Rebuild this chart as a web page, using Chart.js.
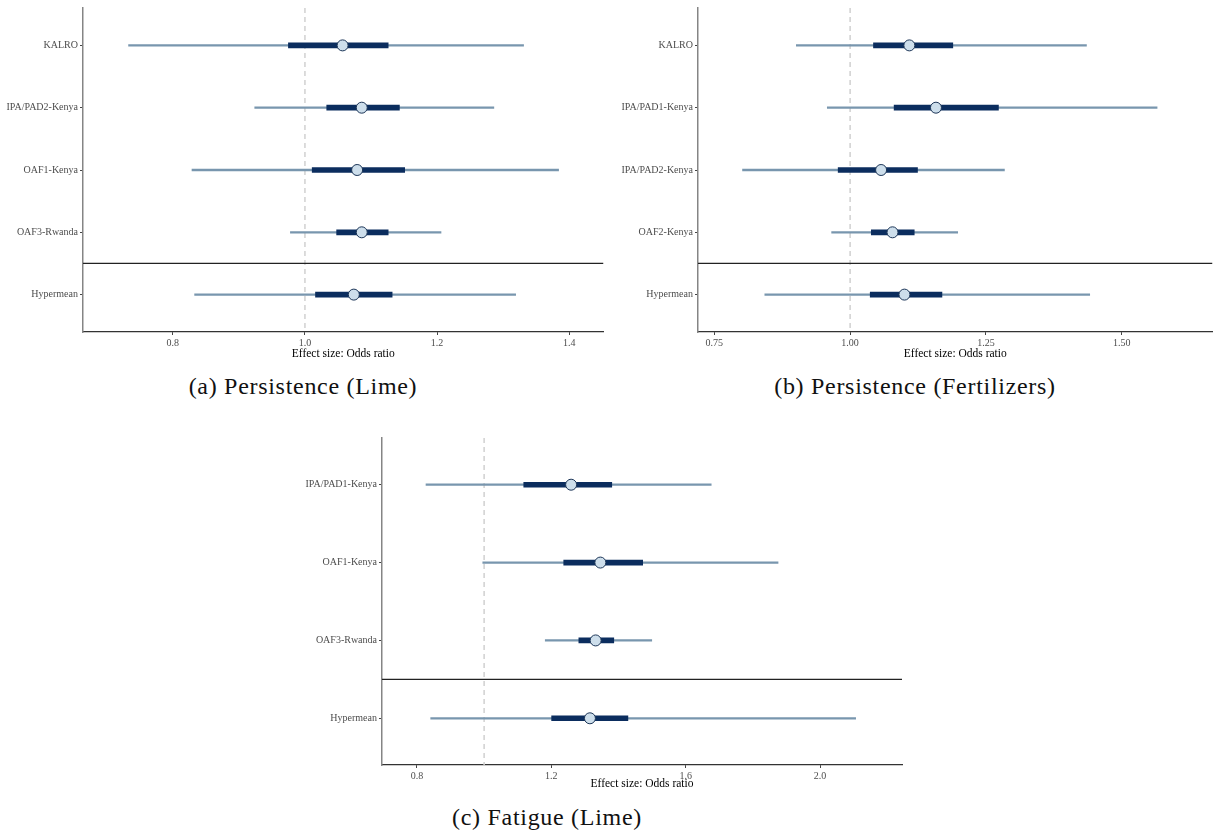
<!DOCTYPE html>
<html>
<head>
<meta charset="utf-8">
<script src="https://cdn.jsdelivr.net/npm/chart.js@4.4.1/dist/chart.umd.min.js"></script>
<style>
  body { margin: 0; background: #fff; width: 1219px; height: 837px; position: relative; overflow: hidden; }
  .panel { position: absolute; }
  .caption { position: absolute; font-family: "Liberation Serif", serif; font-size: 24px; letter-spacing: 0.7px; color: #111; transform: translateX(-50%); white-space: nowrap; }
</style>
</head>
<body>
<div class="panel" style="left:0px;top:0px;width:610px;height:365px;"><canvas id="chart-lime"></canvas></div>
<div class="panel" style="left:610px;top:0px;width:609px;height:365px;"><canvas id="chart-fert"></canvas></div>
<div class="panel" style="left:280px;top:430px;width:640px;height:365px;"><canvas id="chart-fatigue"></canvas></div>
<div class="caption" style="left:303px;top:373px;">(a) Persistence (Lime)</div>
<div class="caption" style="left:915px;top:373px;">(b) Persistence (Fertilizers)</div>
<div class="caption" style="left:547px;top:804px;">(c) Fatigue (Lime)</div>
<script>
// --- Data: (a) Persistence (Lime) ---
const limeLabels = ['KALRO', 'IPA/PAD2-Kenya', 'OAF1-Kenya', 'OAF3-Rwanda', 'Hypermean'];
const limeMid = [1.057, 1.086, 1.079, 1.086, 1.074];
const limeInnerLo = [0.975, 1.033, 1.011, 1.048, 1.016];
const limeInnerHi = [1.126, 1.143, 1.151, 1.126, 1.132];
const limeOuterLo = [0.733, 0.924, 0.829, 0.978, 0.833];
const limeOuterHi = [1.331, 1.286, 1.384, 1.206, 1.319];
const limeTicks = [0.8, 1.0, 1.2, 1.4];
const limeTickLabels = ['0.8', '1.0', '1.2', '1.4'];

// --- Data: (b) Persistence (Fertilizers) ---
const fertLabels = ['KALRO', 'IPA/PAD1-Kenya', 'IPA/PAD2-Kenya', 'OAF2-Kenya', 'Hypermean'];
const fertMid = [1.109, 1.158, 1.057, 1.078, 1.100];
const fertInnerLo = [1.043, 1.081, 0.978, 1.039, 1.037];
const fertInnerHi = [1.189, 1.273, 1.124, 1.118, 1.169];
const fertOuterLo = [0.901, 0.958, 0.802, 0.966, 0.843];
const fertOuterHi = [1.435, 1.565, 1.284, 1.198, 1.441];
const fertTicks = [0.75, 1.0, 1.25, 1.5];
const fertTickLabels = ['0.75', '1.00', '1.25', '1.50'];

// --- Data: (c) Fatigue (Lime) ---
const fatigueLabels = ['IPA/PAD1-Kenya', 'OAF1-Kenya', 'OAF3-Rwanda', 'Hypermean'];
const fatigueMid = [1.259, 1.346, 1.332, 1.315];
const fatigueInnerLo = [1.118, 1.237, 1.282, 1.201];
const fatigueInnerHi = [1.380, 1.472, 1.386, 1.428];
const fatigueOuterLo = [0.827, 0.996, 1.182, 0.841];
const fatigueOuterHi = [1.676, 1.875, 1.499, 2.106];
const fatigueTicks = [0.8, 1.2, 1.6, 2.0];
const fatigueTickLabels = ['0.8', '1.2', '1.6', '2.0'];

const REF_VALUE = 1.0;

// --- Styles ---
const OUTER_COLOR = '#7896ae';
const INNER_COLOR = '#0b2d5e';
const POINT_FILL = '#cddeeb';
const POINT_BORDER = '#1c3557';
const SERIF = '"Liberation Serif", "Times New Roman", serif';

function renderForest(canvasId, cfg) {
    const n = cfg.labels.length;
    const yMin = -0.6, yMax = n - 1 + 0.6;
    const toBars = (lo, hi) => lo.map((v, i) => ({ y: i, x: [v, hi[i]] }));

    new Chart(document.getElementById(canvasId), {
        type: 'scatter',
        data: {
            datasets: [
                { type: 'line', data: [{ x: REF_VALUE, y: yMin }, { x: REF_VALUE, y: yMax }], borderColor: '#d0d0d0', borderWidth: 1.5, borderDash: [5, 4], pointRadius: 0, order: 5 },
                { type: 'line', data: [{ x: cfg.min, y: n - 1.5 }, { x: cfg.max, y: n - 1.5 }], borderColor: '#222', borderWidth: 1.2, pointRadius: 0, order: 4 },
                { type: 'bar', indexAxis: 'y', grouped: false, data: toBars(cfg.outerLo, cfg.outerHi), backgroundColor: OUTER_COLOR, barThickness: 1.6, order: 3 },
                { type: 'bar', indexAxis: 'y', grouped: false, data: toBars(cfg.innerLo, cfg.innerHi), backgroundColor: INNER_COLOR, barThickness: 5, order: 2 },
                { type: 'scatter', data: cfg.mid.map((v, i) => ({ x: v, y: i })), pointRadius: 5.5, pointBackgroundColor: POINT_FILL, pointBorderColor: POINT_BORDER, pointBorderWidth: 1, order: 1 }
            ]
        },
        options: {
            responsive: true, maintainAspectRatio: false, animation: false,
            events: [],
            layout: { padding: { top: cfg.padTop, right: cfg.padRight, left: 0, bottom: 0 } },
            plugins: { legend: { display: false }, tooltip: { enabled: false } },
            scales: {
                x: {
                    type: 'linear', min: cfg.min, max: cfg.max, offset: false,
                    grid: { drawOnChartArea: false, tickLength: 3, tickColor: '#444', offset: false },
                    border: { display: true, color: '#333', width: 1.2 },
                    afterBuildTicks: (scale) => { scale.ticks = cfg.ticks.map(v => ({ value: v })); },
                    afterFit: (scale) => { scale.height = cfg.xHeight; },
                    ticks: {
                        autoSkip: false, maxRotation: 0, padding: 2, color: '#4d4d4d',
                        font: { family: SERIF, size: 10 },
                        callback: (v, i) => cfg.tickLabels[i]
                    },
                    title: { display: true, text: 'Effect size: Odds ratio', color: '#000', font: { family: SERIF, size: 11.5 }, padding: { top: 0, bottom: 4 } }
                },
                y: {
                    type: 'linear', reverse: true, min: yMin, max: yMax, offset: false,
                    grid: { drawOnChartArea: false, tickLength: 3, tickColor: '#444', offset: false },
                    border: { display: true, color: '#858585', width: 1.5 },
                    afterBuildTicks: (scale) => { scale.ticks = cfg.labels.map((_, i) => ({ value: i })); },
                    afterFit: (scale) => { scale.width = cfg.yWidth; },
                    ticks: {
                        autoSkip: false, padding: 2, color: '#4d4d4d',
                        font: { family: SERIF, size: 10 },
                        callback: (v) => cfg.labels[v]
                    }
                }
            }
        }
    });
}

renderForest('chart-lime', {
    labels: limeLabels, mid: limeMid, innerLo: limeInnerLo, innerHi: limeInnerHi,
    outerLo: limeOuterLo, outerHi: limeOuterHi, ticks: limeTicks, tickLabels: limeTickLabels,
    min: 0.664, max: 1.452, yWidth: 83, xHeight: 33, padTop: 7, padRight: 4
});

renderForest('chart-fert', {
    labels: fertLabels, mid: fertMid, innerLo: fertInnerLo, innerHi: fertInnerHi,
    outerLo: fertOuterLo, outerHi: fertOuterHi, ticks: fertTicks, tickLabels: fertTickLabels,
    min: 0.720, max: 1.667, yWidth: 88, xHeight: 33, padTop: 7, padRight: 1
});

renderForest('chart-fatigue', {
    labels: fatigueLabels, mid: fatigueMid, innerLo: fatigueInnerLo, innerHi: fatigueInnerHi,
    outerLo: fatigueOuterLo, outerHi: fatigueOuterHi, ticks: fatigueTicks, tickLabels: fatigueTickLabels,
    min: 0.696, max: 2.244, yWidth: 102, xHeight: 30, padTop: 8, padRight: 18
});
</script>
</body>
</html>
